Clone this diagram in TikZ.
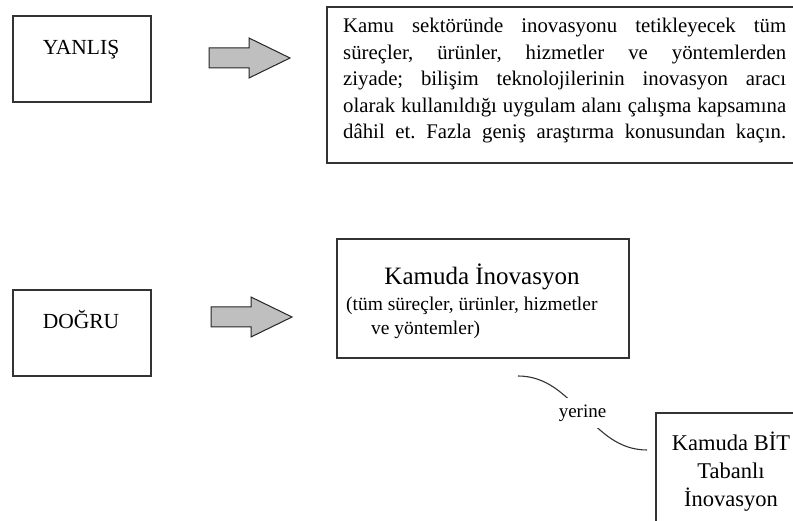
\documentclass[tikz,border=0pt]{standalone}
\usepackage{fontspec}
\setmainfont{Liberation Serif}
\frenchspacing
\begin{document}
\begin{tikzpicture}[x=1pt,y=-1pt,
  frame/.style={draw=black!80,line width=1.2pt,fill=white},
  tag/.style={font=\fontsize{21.5}{24}\selectfont,inner sep=0pt,anchor=base},
  blockarrow/.style={draw=black!85,line width=1pt,fill=black!25,line join=miter},
  link/.style={draw=black!80,line width=1.1pt},
  plain/.style={inner sep=0pt}]
\useasboundingbox (0,0) rectangle (793,521);
\fill[white] (0,0) rectangle (793,521);

% --- first row -------------------------------------------------------
\draw[frame] (13,16) rectangle (151,102);
\node[tag] (wrong) at (81,55) {YANLIŞ};

\draw[blockarrow] (209,48) -- (249,48) -- (249,38) -- (290,58) -- (249,78)
  -- (249,68) -- (209,68) -- cycle;

\draw[frame] (327,7) rectangle (796,163);
\node[plain,anchor=base west] (note) at (343,33)
  {\parbox[t]{443pt}{\fontsize{20.8}{26.5}\selectfont\parindent=0pt
   \makebox[443pt][s]{Kamu sektöründe inovasyonu tetikleyecek tüm}\\
   \makebox[443pt][s]{süreçler, ürünler, hizmetler ve yöntemlerden}\\
   \makebox[443pt][s]{ziyade; bilişim teknolojilerinin inovasyon aracı}\\
   \makebox[443pt][s]{olarak kullanıldığı uygulam alanı çalışma kapsamına}\\
   \makebox[443pt][s]{dâhil et. Fazla geniş araştırma konusundan kaçın.}}};

% --- second row ------------------------------------------------------
\draw[frame] (13,290) rectangle (151,376);
\node[tag] (right) at (81,329) {DOĞRU};

\draw[blockarrow] (211,307) -- (251,307) -- (251,297) -- (292,317) -- (251,337)
  -- (251,327) -- (211,327) -- cycle;

\draw[frame] (337,239) rectangle (629,358);
\node[plain,anchor=base,font=\fontsize{25}{30}\selectfont] (kiTitle) at (482,285) {Kamuda İnovasyon};
\node[plain,anchor=base west,font=\fontsize{19.5}{24}\selectfont] (kiSub1) at (346,311)
  {(tüm süreçler, ürünler, hizmetler};
\node[plain,anchor=base west,font=\fontsize{19.5}{24}\selectfont] (kiSub2) at (371,335)
  {ve yöntemler)};

\draw[frame] (656,413) rectangle (806,535);
\node[plain,anchor=base,align=center,font=\fontsize{22.5}{28}\selectfont] (bit) at (731,506)
  {Kamuda BİT\\Tabanlı\\İnovasyon};

% --- "yerine" link ---------------------------------------------------
\coordinate (linkA) at (518,376);
\coordinate (linkB) at (647,450);
\draw[link] (linkA) .. controls (575,376) and (590,450) .. (linkB)
  node[pos=0.5,fill=white,inner xsep=2pt,inner ysep=7pt,
       font=\fontsize{19}{22}\selectfont] (instead) {yerine};
\end{tikzpicture}
\end{document}
